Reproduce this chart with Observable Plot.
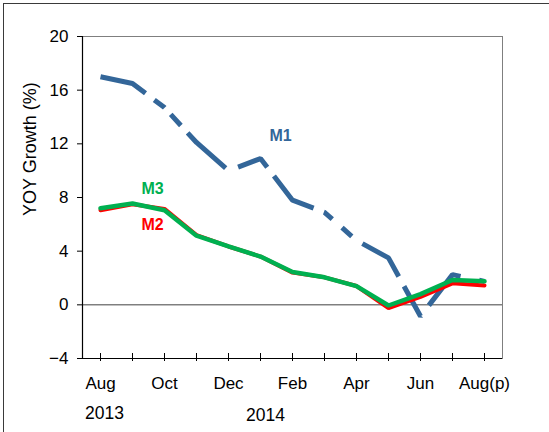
<!DOCTYPE html>
<html><head><meta charset="utf-8">
<script src="https://cdn.jsdelivr.net/npm/d3@7"></script>
<script src="https://cdn.jsdelivr.net/npm/@observablehq/plot@0.6"></script>
<style>
body{margin:0;background:#fff;}
#wrap{position:relative;width:549px;height:432px;overflow:hidden;background:#fff;}
#chart{position:absolute;left:0;top:0;}
#border{position:absolute;left:3px;top:3px;width:700px;height:700px;border-left:1.5px solid #3a3a3a;border-top:1.5px solid #3a3a3a;}
</style></head><body>
<div id="wrap"><div id="chart"></div><div id="border"></div></div>
<script>
const months = ["Aug 2013","Sep 2013","Oct 2013","Nov 2013","Dec 2013","Jan 2014","Feb 2014","Mar 2014","Apr 2014","May 2014","Jun 2014","Jul 2014","Aug 2014"];
const tickLabels = ["Aug","","Oct","","Dec","","Feb","","Apr","","Jun","","Aug(p)"];
const m1 = [17.0, 16.5, 14.7, 12.1, 10.0, 10.9, 7.8, 6.9, 4.8, 3.5, -0.85, 2.25, 1.75];
const m2 = [7.05, 7.5, 7.15, 5.2, 4.35, 3.6, 2.4, 2.05, 1.4, -0.25, 0.6, 1.6, 1.45];
const m3 = [7.2, 7.55, 7.05, 5.15, 4.35, 3.6, 2.45, 2.05, 1.4, -0.05, 0.8, 1.85, 1.75];
const yTicks = [-4, 0, 4, 8, 12, 16, 20];
const yTitle = "YOY Growth (%)";
const year2013 = [{month: "Aug 2013", text: "2013"}];
const year2014 = [{month: "Jan 2014", text: "2014"}];
const labelM1 = [{month: "Jan 2014", value: 12.6, text: "M1"}];
const labelM3 = [{month: "Oct 2013", value: 8.64, text: "M3"}];
const labelM2 = [{month: "Oct 2013", value: 5.98, text: "M2"}];

const rows = vals => months.map((m, i) => ({month: m, value: vals[i]}));
const font = "'Liberation Sans', Arial, sans-serif";

const chart = Plot.plot({
  width: 549, height: 432,
  marginLeft: 82, marginRight: 47, marginTop: 36, marginBottom: 74,
  style: {fontFamily: font, fontSize: "17px", color: "black", background: "white", overflow: "visible"},
  x: {type: "point", domain: months, padding: 0.5},
  y: {domain: [-4, 20]},
  marks: [
    Plot.frame({stroke: "#7f7f7f"}),
    Plot.ruleY([0], {stroke: "#404040", strokeWidth: 1}),
    Plot.line(rows(m1), {x: "month", y: "value", stroke: "#336699", strokeWidth: 5,
      strokeDasharray: "49,11,13,9,15,10,52,14,35,11,53,11,11,13,13,13,51,11,35,13,47,19,40",
      strokeLinecap: "butt", strokeLinejoin: "miter"}),
    Plot.line(rows(m2), {x: "month", y: "value", stroke: "#ff0000", strokeWidth: 4, strokeLinejoin: "miter"}),
    Plot.line(rows(m3), {x: "month", y: "value", stroke: "#00b050", strokeWidth: 4.5, strokeLinejoin: "miter"}),
    Plot.ruleY([-4], {stroke: "black", strokeWidth: 1.2}),
    Plot.frame({anchor: "left", stroke: "black", strokeWidth: 1.2}),
    Plot.tickX(months, {x: d => d, stroke: "black", insetTop: 317, insetBottom: -3}),
    Plot.axisX({ticks: months, tickSize: 0, tickPadding: 18, fontSize: 17,
      tickFormat: d => tickLabels[months.indexOf(d)], label: null}),
    Plot.axisY({ticks: yTicks, tickSize: 5, tickPadding: 9, fontSize: 17, label: null, stroke: "black"}),
    Plot.text([yTitle], {frameAnchor: "left", rotate: -90, dx: -52, dy: 18.5, text: d => d, fontSize: 18, fill: "black"}),
    Plot.text(year2013, {x: "month", text: "text", frameAnchor: "bottom", lineAnchor: "bottom", dy: 60, dx: 4, fontSize: 17.5, fill: "black"}),
    Plot.text(year2014, {x: "month", text: "text", frameAnchor: "bottom", lineAnchor: "bottom", dy: 62, dx: 5, fontSize: 17.5, fill: "black"}),
    Plot.text(labelM1, {x: "month", y: "value", text: "text", dx: 20, fontSize: 16, fontWeight: "bold", fill: "#336699"}),
    Plot.text(labelM3, {x: "month", y: "value", text: "text", dx: -12, fontSize: 16, fontWeight: "bold", fill: "#00b050"}),
    Plot.text(labelM2, {x: "month", y: "value", text: "text", dx: -12, fontSize: 16, fontWeight: "bold", fill: "#ff0000"})
  ]
});
document.getElementById("chart").appendChild(chart);
</script>
</body></html>
